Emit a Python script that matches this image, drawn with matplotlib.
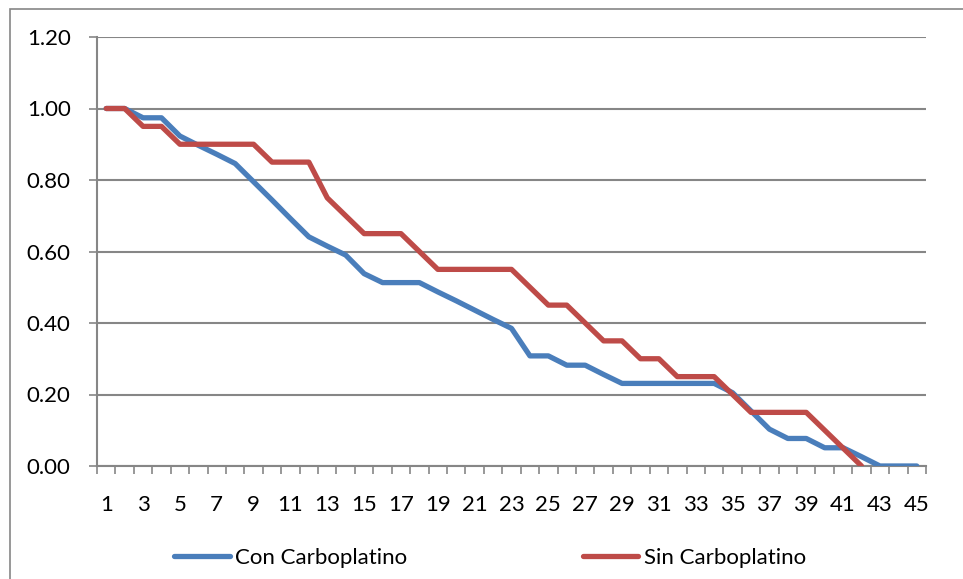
import matplotlib
matplotlib.use("Agg")
import matplotlib.pyplot as plt
from matplotlib.patches import Rectangle

# survival fractions per interval
con_carboplatino = [1.000, 1.000, 0.974, 0.974, 0.923, 0.897, 0.872, 0.846, 0.795, 0.744,
                    0.692, 0.641, 0.615, 0.590, 0.538, 0.513, 0.513, 0.513, 0.487, 0.462,
                    0.436, 0.410, 0.385, 0.308, 0.308, 0.282, 0.282, 0.256, 0.231, 0.231,
                    0.231, 0.231, 0.231, 0.231, 0.205, 0.154, 0.103, 0.077, 0.077, 0.051,
                    0.051, 0.026, 0.000, 0.000, 0.000]
sin_carboplatino = [1.00, 1.00, 0.95, 0.95, 0.90, 0.90, 0.90, 0.90, 0.90, 0.85,
                    0.85, 0.85, 0.75, 0.70, 0.65, 0.65, 0.65, 0.60, 0.55, 0.55,
                    0.55, 0.55, 0.55, 0.50, 0.45, 0.45, 0.40, 0.35, 0.35, 0.30,
                    0.30, 0.25, 0.25, 0.25, 0.20, 0.15, 0.15, 0.15, 0.15, 0.10,
                    0.05, 0.00]
y_ticks = [0.0, 0.2, 0.4, 0.6, 0.8, 1.0, 1.2]

plt.rcParams['font.family'] = ['Lato', 'DejaVu Sans']
grid_col = '#868686'
blue = '#4A7EBB'
red = '#BE4B48'
fs = 16

W, H = 963, 579
fig = plt.figure(figsize=(W / 100, H / 100), dpi=100)
ax = fig.add_axes([97 / W, (H - 466) / H, (926 - 97) / W, (466 - 37) / H])

x_con = list(range(1, len(con_carboplatino) + 1))
x_sin = list(range(1, len(sin_carboplatino) + 1))
ax.plot(x_con, con_carboplatino, color=blue, lw=3.8, solid_capstyle='round',
        solid_joinstyle='round', label='Con Carboplatino', zorder=3)
ax.plot(x_sin, sin_carboplatino, color=red, lw=3.8, solid_capstyle='round',
        solid_joinstyle='round', label='Sin Carboplatino', zorder=4)

ax.set_xlim(0.5, 45.5)
ax.set_ylim(0, 1.2)
ax.set_yticks(y_ticks)
ax.set_yticklabels([f'{v:.2f}' for v in y_ticks], fontsize=fs)
ax.yaxis.grid(True, color=grid_col, lw=1.5)
ax.set_axisbelow(True)

odd = list(range(1, 46, 2))
ax.set_xticks(odd)
ax.set_xticklabels([str(v) for v in odd], fontsize=fs)
ax.set_xticks([i + 0.5 for i in range(0, 46)], minor=True)
ax.tick_params(axis='x', which='major', length=0, pad=21)
ax.tick_params(axis='x', which='minor', length=6, width=1.2, color=grid_col, direction='out')
ax.tick_params(axis='y', length=6, width=1.2, color=grid_col, direction='out', pad=13)

for s in ['top', 'right']:
    ax.spines[s].set_visible(False)
for s in ['left', 'bottom']:
    ax.spines[s].set_color(grid_col)
    ax.spines[s].set_linewidth(1.5)

# chart area border
fig.patches.append(Rectangle((10 / W, -0.1), 1.2, (H - 9) / H + 0.1,
                             transform=fig.transFigure, fill=False,
                             edgecolor=grid_col, lw=1.2))

fig.legend(loc='center', bbox_to_anchor=(490 / W, (H - 558) / H), ncol=2,
           frameon=False, fontsize=fs, handlelength=2.5, handletextpad=0.25,
           columnspacing=7.9)

fig.savefig('out.png', dpi=100)
